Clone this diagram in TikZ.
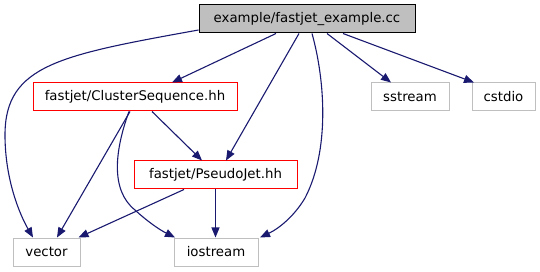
\documentclass[tikz,border=0pt]{standalone}
\usepackage{fontspec}
\setmainfont{DejaVu Sans}
\usetikzlibrary{arrows.meta}
\definecolor{edgeblue}{HTML}{191970}
\definecolor{boxgray}{HTML}{BFBFBF}
\begin{document}
\begin{tikzpicture}[x=1pt,y=-1pt,
  every node/.style={font=\fontsize{13.3}{16}\selectfont, inner sep=0pt, minimum height=28pt, line width=1pt},
  mainbox/.style={draw=black, fill=boxgray},
  redbox/.style={draw=red, fill=white},
  graybox/.style={draw=boxgray, fill=white},
  dep/.style={draw=edgeblue, line width=1.1pt, -{Triangle[length=10pt,width=8pt]}, fill=none}
]
\useasboundingbox (0,0) rectangle (540,272);
\node[mainbox, minimum width=216pt] (top) at (307,19) {example/fastjet\_example.cc};
\node[redbox, minimum width=204pt] (cs) at (135,97) {fastjet/ClusterSequence.hh};
\node[redbox, minimum width=163pt] (pj) at (215.5,175) {fastjet/PseudoJet.hh};
\node[graybox, minimum width=67pt] (vec) at (46.5,252) {vector};
\node[graybox, minimum width=84pt] (ios) at (216,252) {iostream};
\node[graybox, minimum width=78pt] (sst) at (410,97) {sstream};
\node[graybox, minimum width=63pt] (cst) at (503.5,97) {cstdio};

% top -> vector
\draw[dep] ([yshift=-11pt]top.west) .. controls (60,55) and (5,65) .. (5,135)
  .. controls (5,180) and (20,215) .. ([xshift=-13.5pt]vec.north);
% top -> ClusterSequence
\draw[dep] ([xshift=-31pt]top.south) -- ([xshift=37pt]cs.north);
% top -> PseudoJet
\draw[dep] ([xshift=-8pt]top.south) -- ([xshift=10.5pt]pj.north);
% top -> iostream
\draw[dep] ([xshift=5pt]top.south) .. controls (325,80) and (330,150) .. (305,198)
  .. controls (295,215) and (280,228) .. ([xshift=44pt]ios.north);
% top -> sstream
\draw[dep] ([xshift=20pt]top.south) -- ([xshift=-19pt]sst.north);
% top -> cstdio
\draw[dep] ([xshift=36pt]top.south) -- ([xshift=-29.5pt]cst.north);
% ClusterSequence -> vector
\draw[dep] ([xshift=-5pt]cs.south) -- ([xshift=10.5pt]vec.north);
% ClusterSequence -> PseudoJet
\draw[dep] ([xshift=17pt]cs.south) -- ([xshift=-13.5pt]pj.north);
% ClusterSequence -> iostream
\draw[dep] ([xshift=-6pt]cs.south) .. controls (115,150) and (110,190) .. (135,210)
  .. controls (148,222) and (160,230) .. ([xshift=-41pt]ios.north);
% PseudoJet -> vector
\draw[dep] ([xshift=-31.5pt]pj.south) -- ([xshift=32pt]vec.north);
% PseudoJet -> iostream
\draw[dep] (pj.south) -- (pj.south |- ios.north);
\end{tikzpicture}
\end{document}
